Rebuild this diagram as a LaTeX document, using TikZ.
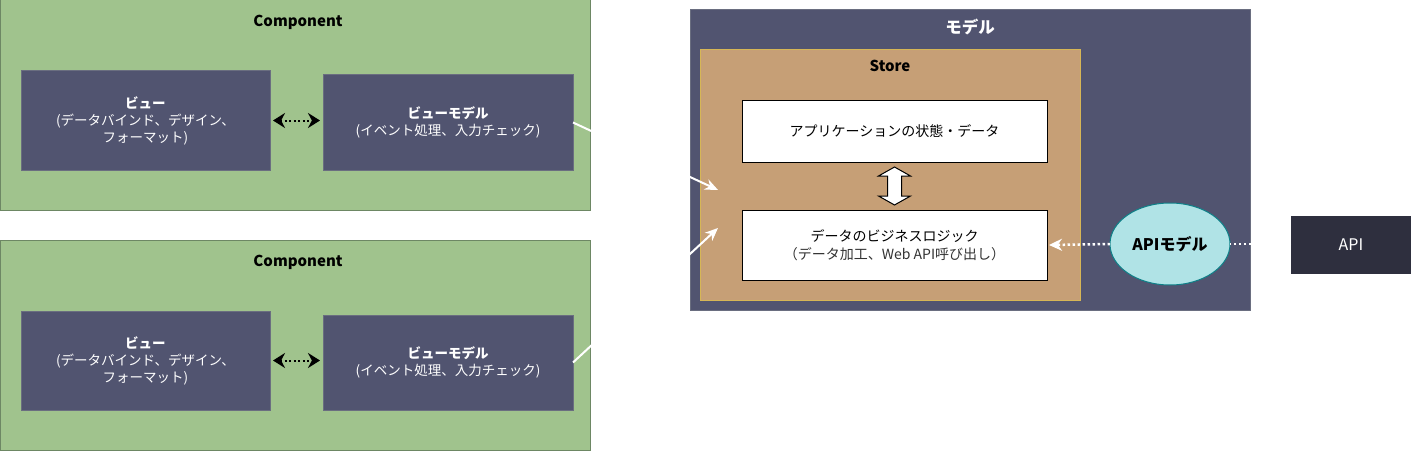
\documentclass[tikz,border=0pt]{standalone}
\usepackage{fontspec}
\setmainfont{Noto Sans CJK JP}
\usetikzlibrary{arrows.meta,calc,shapes.geometric}
\definecolor{compfill}{HTML}{A0C38D}
\definecolor{compline}{HTML}{6D8764}
\definecolor{darkbox}{HTML}{515470}
\definecolor{darkline}{HTML}{6A6E80}
\definecolor{storefill}{HTML}{C69F76}
\definecolor{storeline}{HTML}{D6B656}
\definecolor{ellfill}{HTML}{B0E3E6}
\definecolor{ellline}{HTML}{0E8088}
\definecolor{apifill}{HTML}{2E2F3E}
\begin{document}
\begin{tikzpicture}[x=1pt,y=-1pt,
  every node/.style={inner sep=0pt, outer sep=0pt, align=center, font=\fontsize{13.5}{17}\selectfont},
  compbox/.style={draw=compline, fill=compfill, line width=1pt, minimum width=590pt, minimum height=210pt},
  darkrect/.style={draw=darkline, fill=darkbox, line width=1pt, text=white},
  whitebox/.style={draw=black, fill=white, line width=1pt, minimum width=305pt, font=\fontsize{14}{17.5}\selectfont},
  title/.style={font=\fontsize{15}{18}\selectfont\bfseries},
  whitearrow/.style={draw=white, line width=2pt, -{Stealth[length=13pt,width=11pt]}},
  dotarrow/.style={draw=black, line width=2pt, dash pattern=on 2pt off 2.5pt, {Stealth[length=12pt,width=15pt]}-{Stealth[length=12pt,width=15pt]}, shorten <=3pt, shorten >=3pt},
  apidots/.style={draw=white, line width=2.5pt, dash pattern=on 2.5pt off 2.5pt}
]
\useasboundingbox (0,0) rectangle (1411,452);

% Components
\node[compbox, label={[title, anchor=center, yshift=-22pt, xshift=3pt]north:Component}] (comp1) at (295,105) {};
\node[compbox, label={[title, anchor=center, yshift=-22pt, xshift=3pt]north:Component}] (comp2) at (295,345) {};

\node[darkrect, minimum width=249pt, minimum height=99pt] (view1) at (145.5,120.5)
  {\textbf{ビュー}\\(データバインド、デザイン、\\フォーマット)};
\node[darkrect, minimum width=250pt, minimum height=95pt] (vm1) at (448,122.5)
  {\textbf{ビューモデル}\\(イベント処理、入力チェック)};
\node[darkrect, minimum width=249pt, minimum height=99pt] (view2) at (145.5,360.5)
  {\textbf{ビュー}\\(データバインド、デザイン、\\フォーマット)};
\node[darkrect, minimum width=250pt, minimum height=95pt] (vm2) at (448,362.5)
  {\textbf{ビューモデル}\\(イベント処理、入力チェック)};

\draw[dotarrow] (view1.east) -- (vm1.west |- view1.east);
\draw[dotarrow] (view2.east) -- (vm2.west |- view2.east);

% Model
\node[draw=darkline, fill=darkbox, line width=1pt, minimum width=560pt, minimum height=300pt,
  label={[font=\fontsize{16.5}{19}\selectfont\bfseries, text=white, anchor=center, yshift=-17pt]north:モデル}] (model) at (970,160) {};
\node[draw=storeline, fill=storefill, line width=1pt, minimum width=380pt, minimum height=250pt,
  label={[title, anchor=center, yshift=-16pt]north:Store}] (store) at (890,175) {};
\node[whitebox, minimum height=62pt] (state) at (894.5,131) {アプリケーションの状態・データ};
\node[whitebox, minimum height=70pt] (logic) at (894.5,245)
  {データのビジネスロジック\\[0pt]{\color[HTML]{333333}（データ加工、Web API呼び出し）}};

% block double arrow
\coordinate (T) at ($(state.south)+(0,5)$);
\coordinate (B) at ($(logic.north)+(0,-5)$);
\draw[fill=white, line width=1pt, line join=miter]
  (T) -- ($(T)+(16,9)$) -- ($(T)+(7,9)$) -- ($(B)+(7,-9)$) -- ($(B)+(16,-9)$) -- (B)
  -- ($(B)+(-16,-9)$) -- ($(B)+(-7,-9)$) -- ($(T)+(-7,9)$) -- ($(T)+(-16,9)$) -- cycle;

% API
\node[fill=apifill, minimum width=120pt, minimum height=58pt, text=white, font=\fontsize{16}{19}\selectfont] (api) at (1351,245) {API};
\node[draw=ellline, fill=ellfill, line width=1pt, ellipse, minimum width=120pt, minimum height=82pt,
  font=\fontsize{16}{19}\selectfont\bfseries] (apim) at (1170,244) {APIモデル};

\draw[apidots] (api.west |- apim.east) -- (apim.east);
\draw[apidots, -{Stealth[length=13pt,width=12pt]}] (apim.west) -- ($(logic.east)+(2,0)$);

% white arrows from view models to the store
\coordinate (in1) at (718,190);
\coordinate (in2) at (718,228);
\draw[whitearrow] (vm1.east) -- (in1);
\draw[whitearrow] (vm2.east) -- (in2);
\end{tikzpicture}
\end{document}
